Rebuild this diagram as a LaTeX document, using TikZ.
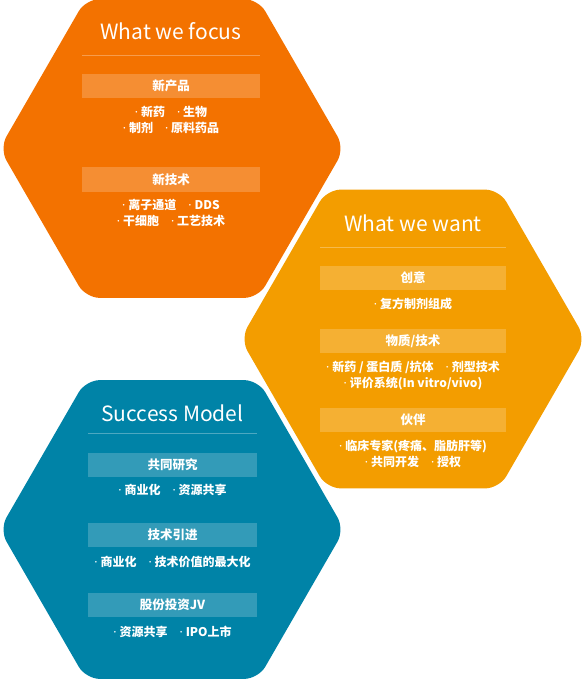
\documentclass[tikz,border=0pt]{standalone}
\usepackage{fontspec}
\setmainfont{Noto Sans CJK SC}
\newfontfamily\latinfont{Noto Sans}
\usetikzlibrary{shapes.geometric}
\definecolor{hxOrange}{HTML}{F37200}
\definecolor{hxGold}{HTML}{F39D00}
\definecolor{hxTeal}{HTML}{0083A7}
\newcommand\itm{{\latinfont\mdseries ·}\hspace{3pt}}
\tikzset{
  hexbox/.style={regular polygon,regular polygon sides=6,minimum size=345pt,
    inner sep=0pt,outer sep=0pt,rounded corners=14pt,draw=none},
  heading/.style={text=white,font=\fontsize{21}{25}\selectfont,inner sep=0pt},
  sepline/.style={draw=white,draw opacity=.3,line width=.6pt},
  band/.style={fill=white,fill opacity=.2,text opacity=1,text=white,
    font=\bfseries\fontsize{12.5}{15}\selectfont,minimum height=24pt,inner sep=0pt},
  items/.style={text=white,align=center,inner sep=0pt,
    font=\bfseries\fontsize{12}{16}\selectfont},
}
\begin{document}
\begin{tikzpicture}[x=1pt,y=-1pt]
  \useasboundingbox (0,0) rectangle (582,679);
  % three hexagons
  \node[hexbox,fill=hxOrange] (focus) at (172,148.5) {};
  \node[hexbox,fill=hxGold] (want) at (413,339) {};
  \node[hexbox,fill=hxTeal] (model) at (172,529.5) {};
  % What we focus
  \node[heading] (focusT) at (171,31) {What we focus};
  \draw[sepline] (82,55) -- (260,55);
  \node[band,minimum width=178pt] (focusA) at (171,86) {新产品};
  \node[items] (focusA1) at (171,120) {\itm 新药\quad \itm 生物\\ \itm 制剂\quad \itm 原料药品};
  \node[band,minimum width=178pt] (focusB) at (171,179.5) {新技术};
  \node[items] (focusB1) at (171,213) {\itm 离子通道\quad \itm DDS\\ \itm 干细胞\quad \itm 工艺技术};
  % What we want
  \node[heading] (wantT) at (413,223) {What we want};
  \draw[sepline] (320,247) -- (506,247);
  \node[band,minimum width=186pt] (wantA) at (413,277.5) {创意};
  \node[items] (wantA1) at (413,304) {\itm 复方制剂组成};
  \node[band,minimum width=186pt] (wantB) at (413,341) {物质/技术};
  \node[items] (wantB1) at (413,375.5) {\itm 新药 / 蛋白质 /抗体\quad \itm 剂型技术\\ \itm 评价系统(In vitro/vivo)};
  \node[band,minimum width=186pt] (wantC) at (413,420) {伙伴};
  \node[items] (wantC1) at (413,454) {\itm 临床专家(疼痛、脂肪肝等)\\ \itm 共同开发\quad \itm 授权};
  % Success Model
  \node[heading] (modelT) at (172.5,413) {Success Model};
  \draw[sepline] (88,433) -- (257,433);
  \node[band,minimum width=169pt] (modelA) at (172.5,464.5) {共同研究};
  \node[items] (modelA1) at (172.5,490) {\itm 商业化\quad \itm 资源共享};
  \node[band,minimum width=169pt] (modelB) at (172.5,535) {技术引进};
  \node[items] (modelB1) at (172.5,562) {\itm 商业化\quad \itm 技术价值的最大化};
  \node[band,minimum width=169pt] (modelC) at (172.5,605) {股份投资JV};
  \node[items] (modelC1) at (172.5,632) {\itm 资源共享\quad \itm IPO上市};
\end{tikzpicture}
\end{document}
